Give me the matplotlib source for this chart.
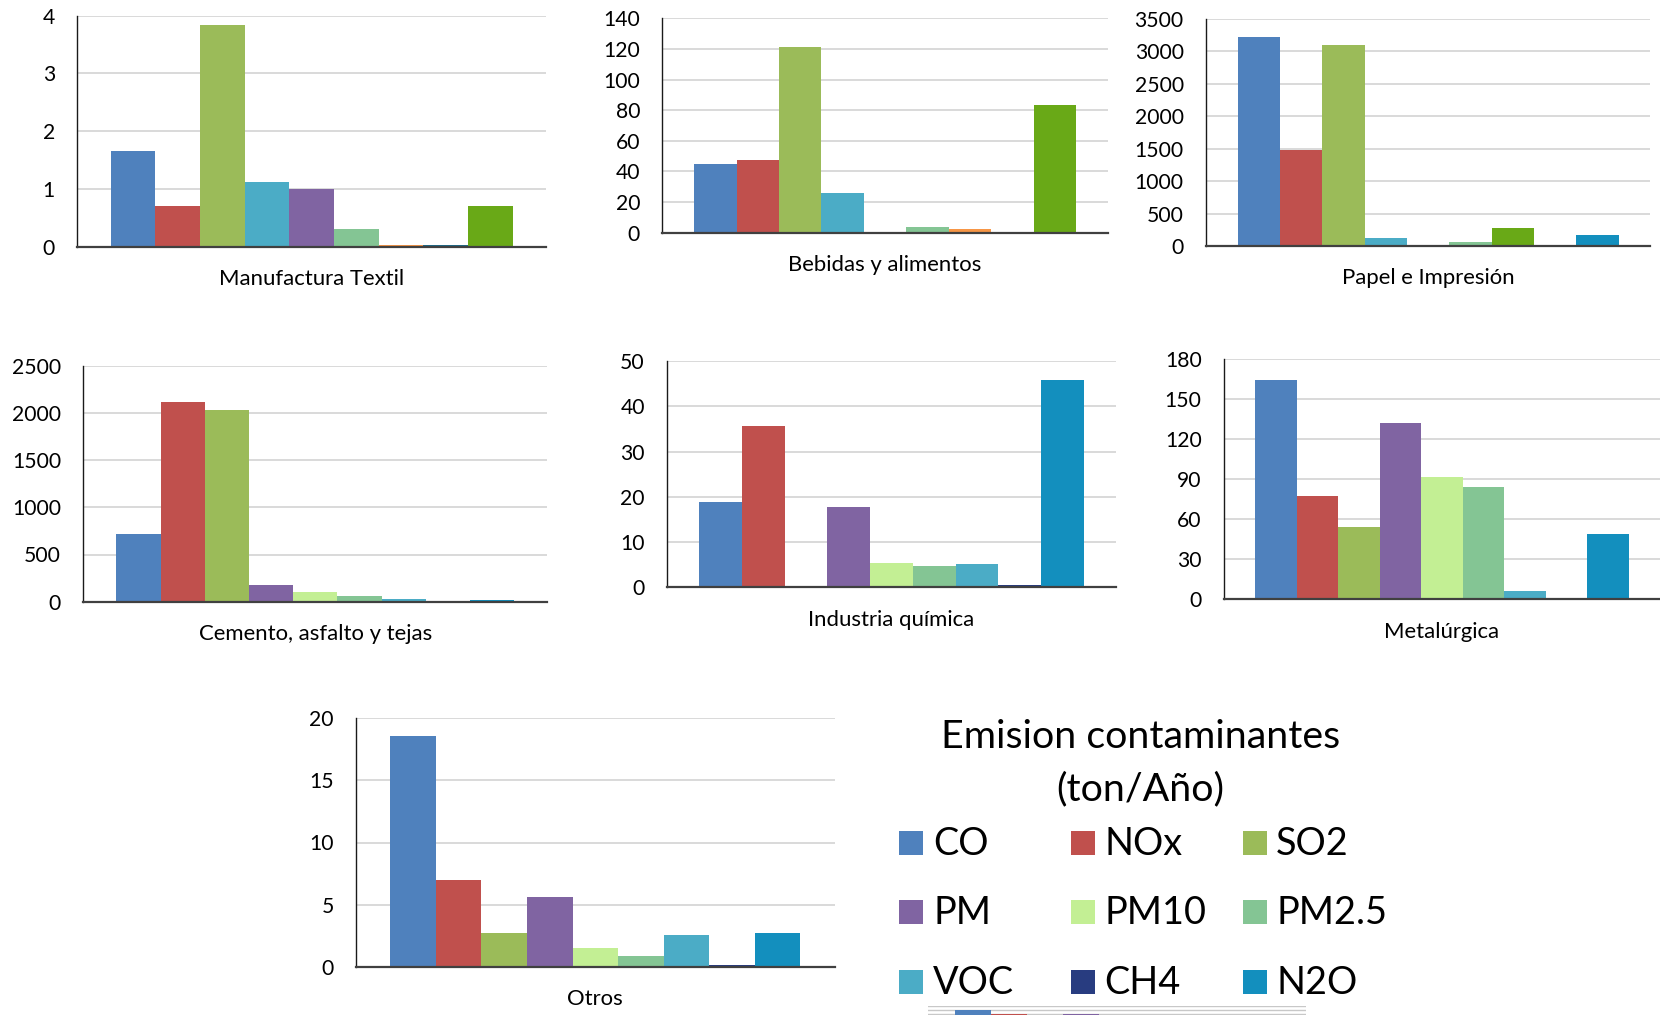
import numpy as np
import matplotlib
matplotlib.use("Agg")
import matplotlib.pyplot as plt
from matplotlib.patches import Rectangle

plt.rcParams['font.family'] = ['Lato', 'DejaVu Sans']

W, H = 1660, 1015

# ---------------- data ----------------
pollutants = ["CO", "NOx", "SO2", "PM", "PM10", "PM2.5", "VOC", "CH4", "N2O"]

CO, NOX, SO2, PM, PM10, PM25, VOC, CH4, N2O = (
    "#4F81BD", "#C0504D", "#9BBB59", "#8064A2", "#C3EF94",
    "#84C594", "#4BACC6", "#283C80", "#138FBE")
ORANGE, BGREEN, DTEAL, DPURPLE = "#F79646", "#69A917", "#1F6A88", "#3F3151"
legend_colors = [CO, NOX, SO2, PM, PM10, PM25, VOC, CH4, N2O]

textil_values = [1.66, 0.70, 3.84, 1.12, 1.00, 0.31, 0.03, 0.03, 0.70]
textil_colors = [CO, NOX, SO2, VOC, PM, PM25, ORANGE, DTEAL, BGREEN]

bebidas_values = [44.9, 47.5, 121.0, 25.9, 0.4, 3.7, 2.4, 0.4, 83.4]
bebidas_colors = [CO, NOX, SO2, VOC, DPURPLE, PM25, ORANGE, DTEAL, BGREEN]

papel_values = [3222, 1480, 3099, 123, 0, 62, 278, 0, 170]
papel_colors = [CO, NOX, SO2, VOC, PM, PM25, BGREEN, CH4, N2O]

cemento_values = [717, 2115, 2030, 177, 106, 60, 28, 2, 18]
quimica_values = [18.85, 35.6, 0.3, 17.75, 5.4, 4.7, 5.15, 0.5, 45.8]
metal_values = [164.3, 77.4, 54.2, 132.0, 91.6, 84.1, 6.2, 0.3, 48.9]
otros_values = [18.58, 6.98, 2.71, 5.61, 1.50, 0.86, 2.55, 0.13, 2.71]

remnant_values = [9.25, 8.5, 0, 8.5, 0, 0, 0, 0, 0]
remnant_grid = [10, 9.25, 8.5]

sector_names = ["Manufactura Textil", "Bebidas y alimentos", "Papel e Impresión",
                "Cemento, asfalto y tejas", "Industria química", "Metalúrgica", "Otros"]
y_max = [4, 140, 3500, 2500, 50, 180, 20]
y_step = [1, 20, 500, 500, 10, 30, 5]

legend_title = "Emision contaminantes\n(ton/Año)"

# ---------------- layout (pixels) ----------------
rects = [
    (77.2, 546.3, 15.7, 246.7),
    (662.3, 1108, 18.3, 232.7),
    (1205.9, 1650.3, 19, 246),
    (83.3, 547.4, 365.7, 601.7),
    (667, 1116, 361, 587.3),
    (1223.8, 1660, 359, 599.3),
    (356.1, 834.6, 718.3, 966.7),
]

def px_rect(L, R, T, B):
    return [L / W, 1 - B / H, (R - L) / W, (B - T) / H]

fig = plt.figure(figsize=(W / 100, H / 100), dpi=100)

all_values = [textil_values, bebidas_values, papel_values, cemento_values,
              quimica_values, metal_values, otros_values]
all_colors = [textil_colors, bebidas_colors, papel_colors, legend_colors,
              legend_colors, legend_colors, legend_colors]

def style_axes(ax, n):
    ax.set_xlim(-1.25, n - 1 + 1.25)
    ax.set_xticks([])
    ax.yaxis.grid(True, color='#CFCFCF', lw=1.1, zorder=0)
    ax.set_axisbelow(True)
    for s in ['top', 'right']:
        ax.spines[s].set_visible(False)
    ax.spines['left'].set_color('#1a1a1a')
    ax.spines['left'].set_linewidth(1.0)
    ax.spines['bottom'].set_color('#404040')
    ax.spines['bottom'].set_linewidth(1.6)
    ax.tick_params(axis='y', length=0, pad=16, labelsize=15.2, labelcolor='black')
    ax.patch.set_alpha(0)

for name, vals, cols, ymax, step, r in zip(sector_names, all_values, all_colors,
                                          y_max, y_step, rects):
    ax = fig.add_axes(px_rect(*r))
    x = np.arange(len(vals))
    ax.bar(x, vals, width=1.0, color=cols, zorder=2)
    ax.set_ylim(0, ymax)
    ax.set_yticks(np.arange(0, ymax + step / 2, step))
    style_axes(ax, len(vals))
    ax.annotate(name, xy=(0.5, 0), xycoords='axes fraction', xytext=(0, -27.7),
                textcoords='offset points', ha='center', va='baseline', fontsize=15.9)

# remnant of a cut-off chart at the bottom edge
axr = fig.add_axes(px_rect(928, 1306, 1006, 1060))
axr.bar(np.arange(9), remnant_values, width=1.0, color=legend_colors, zorder=2)
axr.set_ylim(0, 10)
axr.set_xlim(-1.25, 9.25)
axr.set_xticks([])
axr.set_yticks([])
for s in axr.spines.values():
    s.set_visible(False)
for g in remnant_grid:
    axr.axhline(g, color='#C8C8C8', lw=1.0, zorder=1)
axr.patch.set_alpha(0)

# legend
title_lines = legend_title.split("\n")
fig.text(1140.7 / W, 1 - 748.3 / H, title_lines[0], ha='center', va='baseline', fontsize=28.4)
fig.text(1140.7 / W, 1 - 800 / H, title_lines[1], ha='center', va='baseline', fontsize=28.4)

sq_x = [899.2, 1071.1, 1243.0]
txt_x = [933.0, 1104.7, 1276.0]
row_bottom = [855.0, 923.7, 993.7]
sq = 24
for i, (name, col) in enumerate(zip(pollutants, legend_colors)):
    r, c = divmod(i, 3)
    fig.add_artist(Rectangle((sq_x[c] / W, 1 - row_bottom[r] / H), sq / W, sq / H,
                             transform=fig.transFigure, color=col, lw=0))
    fig.text(txt_x[c] / W, 1 - row_bottom[r] / H, name, ha='left', va='baseline',
             fontsize=27.3)

fig.savefig("out.png", dpi=100)
